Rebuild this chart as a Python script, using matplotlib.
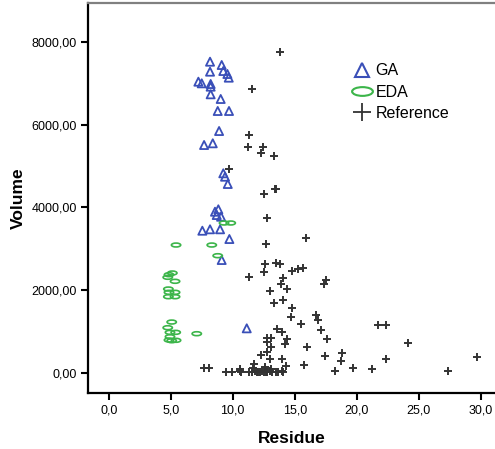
import matplotlib
matplotlib.use("Agg")
import matplotlib.pyplot as plt
from matplotlib.path import Path
from matplotlib.ticker import FuncFormatter
from matplotlib.lines import Line2D

plt.rcParams['font.family'] = ['Liberation Sans', 'DejaVu Sans']

ga_residue = [8.17, 9.11, 8.17, 9.24, 9.57, 9.68, 7.23, 7.5, 8.22, 8.22, 8.22, 9.03,
              8.79, 9.7, 8.9, 7.69, 8.39, 9.24, 9.38, 9.6, 8.57, 8.84, 8.71, 9.06,
              7.55, 8.17, 8.98, 9.73, 9.11, 11.13]
ga_volume = [7523, 7443, 7282, 7298, 7226, 7137, 7040, 7000, 6984, 6920, 6735, 6622,
             6332, 6332, 5848, 5510, 5551, 4826, 4744, 4568, 3898, 3956, 3818, 3777,
             3439, 3473, 3473, 3238, 2731, 1080]

eda_residue = [5.43, 8.31, 8.79, 9.3, 9.84, 5.13, 4.86, 4.76, 5.35, 4.81, 5.35, 4.86,
               4.81, 5.35, 5.08, 4.76, 4.94, 5.4, 4.94, 4.86, 5.43, 5.08, 7.1]
eda_volume = [3093, 3093, 2835, 3625, 3625, 2417, 2376, 2313, 2216, 2030, 1950, 1950,
              1844, 1844, 1232, 1095, 983, 983, 877, 797, 790, 780, 950]

ref_residue = [13.81, 11.58, 11.34, 11.23, 12.47, 12.31, 13.31, 9.70, 12.52, 13.41, 13.49,
               12.79, 15.91, 12.71, 12.58, 13.49, 13.81, 12.52, 11.34, 14.81, 15.24, 15.65,
               14.03, 17.5, 17.39, 13.87, 14.35, 12.98, 14.03, 13.31, 14.81, 16.72, 16.9,
               14.7, 15.51, 17.1, 21.74, 22.39, 13.57, 13.95, 12.74, 13.06, 12.79, 14.4,
               17.58, 14.19, 24.16, 13.11, 15.97, 12.79, 12.26, 18.84, 17.44, 29.73,
               12.98, 14.0, 18.71, 22.34, 11.74, 14.32, 15.75, 19.68, 21.21, 18.23, 27.34,
               7.71, 8.11, 9.44, 9.97, 10.6, 10.69, 11.34, 11.56, 11.8, 11.94, 12.07,
               12.2, 12.34, 12.52, 12.68, 12.79, 13.01, 13.15, 13.49, 13.68, 13.95, 14.08,
               11.66, 12.6, 13.06, 10.6]
ref_volume = [7765, 6856, 5744, 5469, 5462, 5309, 5244, 4930, 4326, 4447, 4447,
              3754, 3255, 3117, 2634, 2666, 2634, 2434, 2327, 2473, 2521, 2537,
              2288, 2247, 2151, 2151, 2038, 1982, 1771, 1692, 1571, 1409, 1281,
              1346, 1177, 1039, 1160, 1167, 1056, 991, 839, 839, 757, 822,
              822, 693, 725, 628, 620, 500, 435, 483, 418, 394,
              331, 331, 290, 331, 217, 177, 193, 113, 97, 48, 56,
              121, 129, 35, 30, 40, 25, 35, 30, 40, 25, 35,
              30, 40, 25, 35, 30, 40, 25, 35, 30, 40, 25,
              113, 152, 97, 97]

ga_color = '#3a4fb8'
eda_color = '#3cb54a'
ref_color = '#333333'

# flat ellipse marker
circle = Path.unit_circle()
ellipse = Path(circle.vertices * [1.0, 0.42], circle.codes)

fig = plt.figure(figsize=(4.95, 4.49), dpi=100)
ax = fig.add_axes([0.1778, 0.1247, 0.8222, 0.8686])

ax.scatter(ga_residue, ga_volume, marker='^', s=34, facecolors='none',
           edgecolors=ga_color, linewidths=1.3, zorder=3)
ax.scatter(eda_residue, eda_volume, marker=ellipse, s=45, facecolors='none',
           edgecolors=eda_color, linewidths=1.2, zorder=3)
ax.scatter(ref_residue, ref_volume, marker='+', s=32, color=ref_color,
           linewidths=1.4, zorder=3)

ax.set_xlim(-1.67, 31.15)
ax.set_ylim(-483, 8941)
ax.set_xticks([0, 5, 10, 15, 20, 25, 30])
ax.set_yticks([0, 2000, 4000, 6000, 8000])
ax.xaxis.set_major_formatter(FuncFormatter(lambda v, p: f"{v:.1f}".replace('.', ',')))
ax.yaxis.set_major_formatter(FuncFormatter(lambda v, p: f"{v:.2f}".replace('.', ',')))
ax.tick_params(direction='out', length=5, width=1.5, labelsize=9, pad=3, color='black')

for side in ['left', 'bottom']:
    ax.spines[side].set_linewidth(1.6)
ax.spines['top'].set_color('#808080')
ax.spines['top'].set_linewidth(1.6)
ax.spines['right'].set_visible(False)

ax.set_xlabel('Residue', fontsize=12.5, fontweight='bold', labelpad=11)
ax.set_ylabel('Volume', fontsize=12.5, fontweight='bold', labelpad=4)

handles = [
    Line2D([], [], linestyle='none', marker='^', markersize=10.5, markerfacecolor='none',
           markeredgecolor=ga_color, markeredgewidth=1.5),
    Line2D([], [], linestyle='none', marker=ellipse, markersize=15, markerfacecolor='none',
           markeredgecolor=eda_color, markeredgewidth=1.5),
    Line2D([], [], linestyle='none', marker='+', markersize=13, color=ref_color,
           markeredgewidth=1.3),
]
ax.legend(handles, ['GA', 'EDA', 'Reference'], loc='upper left',
          bbox_to_anchor=(0.628, 0.866), frameon=False, fontsize=11.5,
          handlelength=1.3, handletextpad=0.2, labelspacing=0.4, borderpad=0)

fig.savefig('out.png', dpi=100)
